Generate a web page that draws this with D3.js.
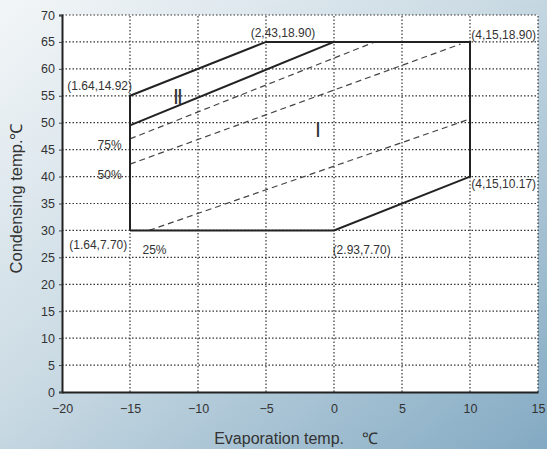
<!DOCTYPE html>
<html>
<head>
<meta charset="utf-8">
<script src="https://cdn.jsdelivr.net/npm/d3@7"></script>
<style>
  html, body { margin: 0; padding: 0; background: #dbe6ec; }
  text { font-family: "Liberation Sans", Arial, sans-serif; fill: #333; }
</style>
</head>
<body>
<div id="chart"></div>
<script>
// axis ticks
const xTicks = [-20, -15, -10, -5, 0, 5, 10, 15];
const yTicks = [0, 5, 10, 15, 20, 25, 30, 35, 40, 45, 50, 55, 60, 65, 70];

// operating envelope (evaporation temp, condensing temp)
const envelope = [[-15, 30], [0, 30], [10, 40], [10, 65], [-5, 65], [-15, 55], [-15, 30]];
// boundary between zone I and zone II
const zoneBoundary = [[-15, 49.5], [0, 65]];
// part load lines
const loadLineNames = ["75%", "50%", "25%"];
const loadLines = [
    [[-15, 47.0], [3, 65]],
    [[-15, 42.3], [9.3, 64.6]],
    [[-13.6, 30], [10, 50.7]]
];
// point annotations: text, x, y, anchor
const pointLabels = ["(2,43,18.90)", "(4,15,18.90)", "(1.64,14.92)", "(1.64,7.70)", "(2.93,7.70)", "(4,15,10.17)"];
const pointLabelX = [-3.75, 10.1, -14.85, -15.2, -0.1, 10.1];
const pointLabelY = [66.0, 65.6, 56.0, 26.6, 25.7, 37.9];
const pointLabelAnchor = ["middle", "start", "end", "end", "start", "start"];
// load line labels
const loadLabelX = [-16.5, -16.5, -13.2];
const loadLabelY = [45.2, 39.6, 25.7];
// zone labels
const zoneNames = ["Ⅰ", "Ⅱ"];
const zoneX = [-1.2, -11.5];
const zoneY = [47.3, 53.5];

const width = 547, height = 449;
const margin = {top: 15, right: 9, bottom: 57, left: 62};

const svg = d3.select("#chart").append("svg")
    .attr("width", width).attr("height", height);

// photo-ish background
const defs = svg.append("defs");
const grad = defs.append("linearGradient").attr("id", "bg")
    .attr("x1", "0%").attr("y1", "0%").attr("x2", "100%").attr("y2", "100%");
grad.append("stop").attr("offset", "0%").attr("stop-color", "#f3f6f8");
grad.append("stop").attr("offset", "45%").attr("stop-color", "#cbdbe4");
grad.append("stop").attr("offset", "100%").attr("stop-color", "#83aac3");
svg.append("rect").attr("width", width).attr("height", height).attr("fill", "url(#bg)");

const x = d3.scaleLinear().domain([-20, 15]).range([margin.left, width - margin.right]);
const y = d3.scaleLinear().domain([0, 70]).range([height - margin.bottom, margin.top]);

// plot area
svg.append("rect")
    .attr("x", x(-20)).attr("y", y(70))
    .attr("width", x(15) - x(-20)).attr("height", y(0) - y(70))
    .attr("fill", "#fff");

// dotted grid
const grid = svg.append("g").attr("stroke", "#333").attr("stroke-width", 1.2)
    .attr("stroke-dasharray", "1.5,2");
grid.selectAll(".gx").data(xTicks.slice(1)).join("line")
    .attr("x1", d => x(d)).attr("x2", d => x(d))
    .attr("y1", y(0)).attr("y2", y(70));
grid.selectAll(".gy").data(yTicks.slice(1)).join("line")
    .attr("x1", x(-20)).attr("x2", x(15))
    .attr("y1", d => y(d)).attr("y2", d => y(d));

// axes
const xAxis = svg.append("g").attr("transform", `translate(0,${y(0)})`)
    .call(d3.axisBottom(x).tickValues(xTicks).tickSize(0).tickPadding(12));
const yAxis = svg.append("g").attr("transform", `translate(${x(-20)},0)`)
    .call(d3.axisLeft(y).tickValues(yTicks).tickSize(3).tickPadding(4));
[xAxis, yAxis].forEach(a => {
    a.select(".domain").attr("stroke", "#222").attr("stroke-width", 2);
    a.selectAll(".tick line").attr("stroke", "#444");
    a.selectAll("text").attr("font-size", 12.5).attr("fill", "#444")
        .attr("font-family", "Liberation Sans, Arial, sans-serif");
});

const line = d3.line().x(d => x(d[0])).y(d => y(d[1]));

// part load lines
svg.selectAll(".load").data(loadLines).join("path")
    .attr("d", line).attr("fill", "none")
    .attr("stroke", "#444").attr("stroke-width", 1.2).attr("stroke-dasharray", "6,4");

// envelope and boundary
svg.append("path").datum(envelope).attr("d", line)
    .attr("fill", "none").attr("stroke", "#222").attr("stroke-width", 2);
svg.append("path").datum(zoneBoundary).attr("d", line)
    .attr("fill", "none").attr("stroke", "#222").attr("stroke-width", 2);

// point annotations
svg.selectAll(".plabel").data(pointLabels).join("text")
    .attr("x", (d, i) => x(pointLabelX[i]))
    .attr("y", (d, i) => y(pointLabelY[i]))
    .attr("text-anchor", (d, i) => pointLabelAnchor[i])
    .attr("font-size", 12)
    .text(d => d);

svg.selectAll(".llabel").data(loadLineNames).join("text")
    .attr("x", (d, i) => x(loadLabelX[i]))
    .attr("y", (d, i) => y(loadLabelY[i]))
    .attr("text-anchor", "middle")
    .attr("font-size", 12)
    .text(d => d);

svg.selectAll(".zlabel").data(zoneNames).join("text")
    .attr("x", (d, i) => x(zoneX[i]))
    .attr("y", (d, i) => y(zoneY[i]))
    .attr("text-anchor", "middle")
    .attr("font-family", "DejaVu Serif, Liberation Serif, serif")
    .attr("font-size", 20)
    .text(d => d);

// axis titles
svg.append("text")
    .attr("x", 296).attr("y", 444)
    .attr("text-anchor", "middle").attr("font-size", 16).attr("fill", "#3a3a3a")
    .style("white-space", "pre")
    .text("Evaporation temp.    ℃");
svg.append("text")
    .attr("transform", `translate(22,${y(35) - 5}) rotate(-90)`)
    .attr("text-anchor", "middle").attr("font-size", 16.5).attr("fill", "#3a3a3a")
    .text("Condensing temp.℃");
</script>
</body>
</html>
